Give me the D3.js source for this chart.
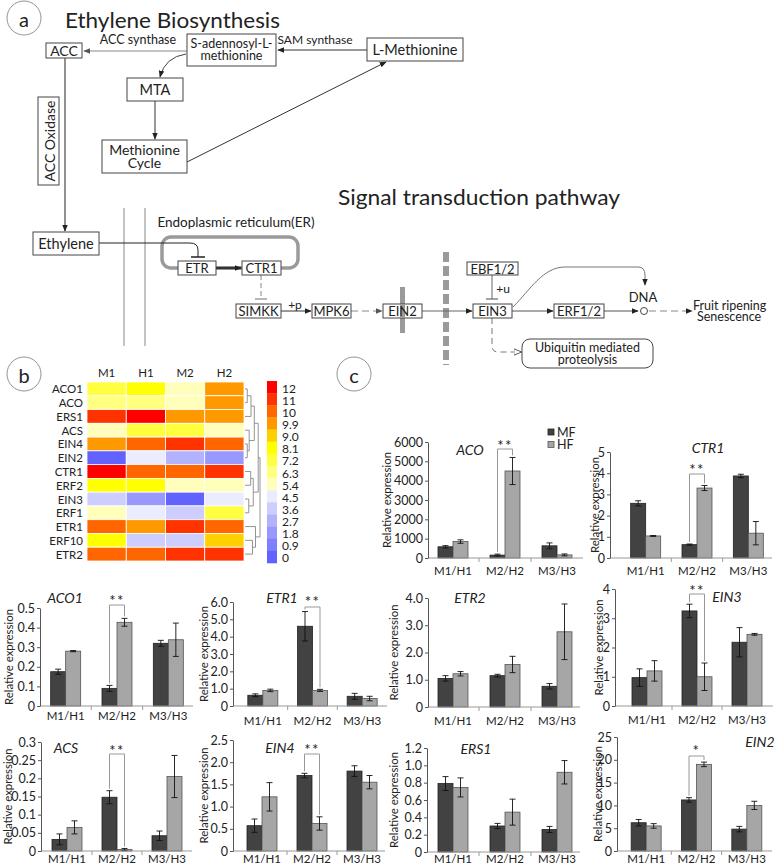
<!DOCTYPE html>
<html><head><meta charset="utf-8">
<script src="https://cdn.jsdelivr.net/npm/d3@7"></script>
<style>body{margin:0;background:#fff}svg{display:block}text{font-family:Lato,"Open Sans",sans-serif;fill:#222}</style>
</head><body><svg id="c" width="778" height="866"></svg>
<script>
// ================= DATA =================
const categories = ["M1/H1", "M2/H2", "M3/H3"];
const series = ["MF", "HF"];

const ACO_MF = [580, 150, 630], ACO_MF_SD = [60, 50, 150];
const ACO_HF = [850, 4500, 160], ACO_HF_SD = [90, 700, 50];
const ACO_TICKS = [0, 1000, 2000, 3000, 4000, 5000, 6000];
const ACO_LABELS = ["0", "1000", "2000", "3000", "4000", "5000", "6000"];

const CTR1_MF = [2.58, 0.63, 3.87], CTR1_MF_SD = [0.12, 0.03, 0.08];
const CTR1_HF = [1.04, 3.3, 1.17], CTR1_HF_SD = [0.02, 0.12, 0.55];
const CTR1_TICKS = [0, 1, 2, 3, 4, 5];
const CTR1_LABELS = ["0", "1", "2", "3", "4", "5"];

const ACO1_MF = [0.175, 0.09, 0.32], ACO1_MF_SD = [0.013, 0.015, 0.015];
const ACO1_HF = [0.28, 0.427, 0.338], ACO1_HF_SD = [0.003, 0.02, 0.085];
const ACO1_TICKS = [0, 0.1, 0.2, 0.3, 0.4, 0.5];
const ACO1_LABELS = ["0", "0.1", "0.2", "0.3", "0.4", "0.5"];

const ETR1_MF = [0.62, 4.6, 0.56], ETR1_MF_SD = [0.08, 0.85, 0.17];
const ETR1_HF = [0.9, 0.9, 0.43], ETR1_HF_SD = [0.07, 0.06, 0.13];
const ETR1_TICKS = [0, 1, 2, 3, 4, 5, 6];
const ETR1_LABELS = ["0", "1.0", "2.0", "3.0", "4.0", "5.0", "6.0"];

const ETR2_MF = [1.05, 1.15, 0.76], ETR2_MF_SD = [0.1, 0.05, 0.1];
const ETR2_HF = [1.22, 1.56, 2.76], ETR2_HF_SD = [0.08, 0.3, 1.02];
const ETR2_TICKS = [0, 1, 2, 3, 4];
const ETR2_LABELS = ["0", "1.0", "2.0", "3.0", "4.0"];

const EIN3_MF = [0.97, 3.25, 2.18], EIN3_MF_SD = [0.3, 0.23, 0.5];
const EIN3_HF = [1.2, 1.0, 2.45], EIN3_HF_SD = [0.35, 0.47, 0.03];
const EIN3_TICKS = [0, 1, 2, 3, 4];
const EIN3_LABELS = ["0", "1", "2", "3", "4"];

const ACS_MF = [0.032, 0.148, 0.042], ACS_MF_SD = [0.015, 0.018, 0.013];
const ACS_HF = [0.065, 0.004, 0.205], ACS_HF_SD = [0.018, 0.003, 0.058];
const ACS_TICKS = [0, 0.05, 0.1, 0.15, 0.2, 0.25, 0.3];
const ACS_LABELS = ["0", "0.05", "0.1", "0.15", "0.2", "0.25", "0.3"];

const EIN4_MF = [0.57, 1.7, 1.8], EIN4_MF_SD = [0.15, 0.05, 0.12];
const EIN4_HF = [1.22, 0.62, 1.55], EIN4_HF_SD = [0.32, 0.15, 0.15];
const EIN4_TICKS = [0, 0.5, 1, 1.5, 2, 2.5];
const EIN4_LABELS = ["0", "0.5", "1.0", "1.5", "2.0", "2.5"];

const ERS1_MF = [0.79, 0.3, 0.26], ERS1_MF_SD = [0.08, 0.03, 0.035];
const ERS1_HF = [0.745, 0.46, 0.92], ERS1_HF_SD = [0.11, 0.15, 0.135];
const ERS1_TICKS = [0, 0.2, 0.4, 0.6, 0.8, 1.0, 1.2];
const ERS1_LABELS = ["0", "0.2", "0.4", "0.6", "0.8", "1.0", "1.2"];

const EIN2_MF = [6.2, 11.2, 4.8], EIN2_MF_SD = [0.7, 0.5, 0.6];
const EIN2_HF = [5.5, 19.0, 10.0], EIN2_HF_SD = [0.5, 0.5, 0.9];
const EIN2_TICKS = [0, 5, 10, 15, 20, 25];
const EIN2_LABELS = ["0", "5", "10", "15", "20", "25"];

// heatmap
const heatGenes = ["ACO1", "ACO", "ERS1", "ACS", "EIN4", "EIN2", "CTR1", "ERF2", "EIN3", "ERF1", "ETR1", "ERF10", "ETR2"];
const heatSamples = ["M1", "H1", "M2", "H2"];
const heatM1 = [7.2, 6.3, 11, 5.4, 9.9, 0, 12, 8.1, 3.6, 5.4, 10, 8.1, 10];
const heatH1 = [8.1, 6.3, 12, 7.2, 10, 4.5, 10, 8.1, 1.8, 4.5, 9.9, 3.6, 10];
const heatM2 = [5.4, 5.4, 9.9, 7.2, 11, 2.7, 10, 5.4, 0, 3.6, 11, 3.6, 11];
const heatH2 = [9.9, 9.9, 9.9, 5.4, 10, 1.8, 11, 5.4, 4.5, 7.2, 10, 9.0, 11];
const legendValues = [12, 11, 10, 9.9, 9.0, 8.1, 7.2, 6.3, 5.4, 4.5, 3.6, 2.7, 1.8, 0.9, 0];
const legendLabels = ["12", "11", "10", "9.9", "9.0", "8.1", "7.2", "6.3", "5.4", "4.5", "3.6", "2.7", "1.8", "0.9", "0"];
const legendColors = ["#ff0000", "#ff3300", "#ff6600", "#ff9900", "#ffd000", "#ffff00", "#ffff40", "#ffff80", "#ffffbb", "#ececff", "#cdcdff", "#b2b2ff", "#9898ff", "#7e7eff", "#6262ff"];
// dendrogram merges: [id, childA, childB, height]
const dendroMerges = [
  ["n1", "ACO1", "ACO", 0.15], ["n2", "n1", "ERS1", 0.4], ["n3", "EIN4", "EIN2", 0.15],
  ["n4", "ACS", "n3", 0.28], ["n5", "n2", "n4", 0.62], ["n6", "CTR1", "ERF2", 0.38],
  ["n7", "EIN3", "ERF1", 0.25], ["n8", "n6", "n7", 0.55], ["n9", "n5", "n8", 0.88],
  ["n10", "ERF10", "ETR2", 0.5], ["n11", "ETR1", "n10", 0.7], ["n12", "n9", "n11", 1.0]
];

// ================= DRAW =================
const svg = d3.select("#c");
const defs = svg.append("defs");
function marker(id, color, hollow, size) {
  defs.append("marker").attr("id", id).attr("viewBox", "0 0 10 10").attr("refX", 9).attr("refY", 5)
    .attr("markerWidth", size || 7).attr("markerHeight", size || 7).attr("markerUnits", "userSpaceOnUse").attr("orient", "auto")
    .append("path").attr("d", "M0,1L10,5L0,9Z").attr("fill", hollow ? "#fff" : color)
    .attr("stroke", color).attr("stroke-width", hollow ? 1.2 : 0);
}
marker("ah", "#222"); marker("ahg", "#555"); marker("ahh", "#555", true, 8);

// ---- panel labels ----
function panelLabel(cx, cy, t) {
  svg.append("circle").attr("cx", cx).attr("cy", cy).attr("r", 17).attr("fill", "none").attr("stroke", "#777").attr("stroke-width", 0.8);
  svg.append("text").attr("x", cx).attr("y", cy + 1).attr("text-anchor", "middle").attr("dominant-baseline", "central").attr("font-size", 20).text(t);
}
panelLabel(24, 18, "a"); panelLabel(24, 374, "b"); panelLabel(354, 374, "c");

// ---- panel a: pathway ----
const A = svg.append("g");
function path(d, color, w, dash, mk) {
  const p = A.append("path").attr("d", d).attr("fill", "none").attr("stroke", color).attr("stroke-width", w);
  if (dash) p.attr("stroke-dasharray", dash);
  if (mk) p.attr("marker-end", `url(#${mk})`);
  return p;
}
function label(x, y, t, fs, anchor) {
  return A.append("text").attr("x", x).attr("y", y).attr("text-anchor", anchor || "middle").attr("dominant-baseline", "central").attr("font-size", fs).text(t);
}
// multi-line label as one text element with tspans
function mlabel(x, y, lines, fs, sp, anchor, dxs) {
  const t = A.append("text").attr("text-anchor", anchor || "middle").attr("font-size", fs);
  const n = lines.length;
  lines.forEach((s, i) => t.append("tspan").attr("x", x + ((dxs && dxs[i]) || 0)).attr("y", y + (i - (n - 1) / 2) * sp + fs * 0.35).text(s));
  return t;
}
function box(x, y, w, h, lines, fs, rx, gap, under) {
  A.append("rect").attr("x", x).attr("y", y).attr("width", w).attr("height", h).attr("rx", rx || 0)
    .attr("fill", "#fff").attr("stroke", "#444").attr("stroke-width", 1);
  if (under) under();
  if (lines.length === 1) label(x + w / 2, y + h / 2, lines[0], fs);
  else mlabel(x + w / 2, y + h / 2, lines, fs, gap || fs * 0.9);
}

A.append("text").attr("x", 65).attr("y", 28).attr("font-size", 21).attr("textLength", 215).attr("lengthAdjust", "spacingAndGlyphs").text("Ethylene Biosynthesis");
A.append("text").attr("x", 338).attr("y", 205).attr("font-size", 21).attr("textLength", 282).attr("lengthAdjust", "spacingAndGlyphs").text("Signal transduction pathway");

// membrane lines
path("M124,208V346", "#888", 1); path("M145,208V346", "#888", 1);
// ER compartment
A.append("rect").attr("x", 162).attr("y", 237).attr("width", 136).attr("height", 31).attr("rx", 9).attr("fill", "none").attr("stroke", "#9a9a9a").attr("stroke-width", 3.5);
label(236, 222, "Endoplasmic reticulum(ER)", 13.5);

// biosynthesis arrows
path("M367,50H278", "#333", 1, null, "ah");
path("M187,51H84", "#888", 1, null, "ahg");
path("M186,54Q165,57 160,77", "#444", 1, null, "ah");
path("M155,101V139", "#333", 1, null, "ah");
path("M187,162L386,62", "#333", 1, null, "ah");
path("M65,58V231", "#222", 1, null, "ah");
label(138, 39, "ACC synthase", 12.5);
label(315, 39, "SAM synthase", 12);

// signal arrows
path("M99,243H190Q198,243 198,250V257", "#222", 1);
path("M191,257H205", "#222", 1.5);
path("M216,268H241", "#333", 2.5, null, "ah");
path("M261,275V299", "#888", 1, "5,3");
path("M255,299H267", "#888", 1.2);
path("M281,311H311", "#333", 1, null, "ah");
label(295, 304, "+p", 12);
path("M351,311H382", "#888", 1.2, "7,4", "ahg");
A.append("rect").attr("x", 400).attr("y", 287).attr("width", 5).attr("height", 46).attr("fill", "#9a9a9a");
path("M446,252V365", "#9a9a9a", 6, "10,4");
path("M422,311H472", "#666", 1, null, "ah");
path("M492,275V299", "#666", 1);
path("M486,299H498", "#666", 1.2);
label(503, 288, "+u", 12);
path("M513,307C530,290 543,267 565,267H638Q645,267 645,275V285", "#666", 0.9, null, "ah");
path("M512,311H553", "#555", 1, null, "ah");
path("M604,311H638", "#555", 1, null, "ah");
A.append("circle").attr("cx", 644).attr("cy", 311).attr("r", 3.5).attr("fill", "#fff").attr("stroke", "#333").attr("stroke-width", 0.9);
label(643, 297, "DNA", 13);
path("M649,311H692", "#888", 1.2, "7,4", "ah");
mlabel(693, 311.5, ["Fruit  ripening", "Senescence"], 12.5, 11, "start", [0, 4]);
path("M492,318V346Q492,352 498,352H521", "#777", 1, "6,4", "ahh");

// boxes
box(46, 43, 36, 15, ["ACC"], 14);
box(187, 34, 89, 32, ["S-adennosyl-L-", "methionine"], 12.5, 0, 12);
box(367, 38, 96, 23, ["L-Methionine"], 14.5);
box(127, 78, 56, 23, ["MTA"], 14.5);
box(102, 140, 85, 33, ["Methionine", "Cycle"], 14, 0, 13);
A.append("rect").attr("x", 38).attr("y", 97).attr("width", 21).attr("height", 88).attr("fill", "#fff").attr("stroke", "#444");
A.append("text").attr("transform", "translate(49,141) rotate(-90)").attr("text-anchor", "middle").attr("dominant-baseline", "central").attr("font-size", 14).text("ACC Oxidase");
box(33, 232, 66, 23, ["Ethylene"], 14.5);
box(178, 261, 38, 14, ["ETR"], 13);
box(242, 261, 39, 14, ["CTR1"], 13);
box(236, 304, 45, 14, ["SIMKK"], 13);
box(312, 304, 39, 14, ["MPK6"], 13);
box(383, 304, 39, 14, ["EIN2"], 13, 0, 0, () => A.append("rect").attr("x", 400).attr("y", 304).attr("width", 5).attr("height", 14).attr("fill", "#9a9a9a"));
box(473, 304, 39, 14, ["EIN3"], 13);
box(467, 262, 51, 13, ["EBF1/2"], 13);
box(554, 304, 50, 14, ["ERF1/2"], 13);
box(522, 339, 131, 29, ["Ubiquitin mediated", "proteolysis"], 12.5, 8, 11.5);

// ---- panel b: heatmap ----
const H = svg.append("g");
const hx = d3.scaleBand().domain(heatSamples).range([87, 244]);
const hy = d3.scaleBand().domain(heatGenes).range([382, 561]);
const ascVals = legendValues.slice().reverse();
const color = d3.scaleThreshold().domain(d3.pairs(ascVals).map(([a, b]) => (a + b) / 2)).range(legendColors.slice().reverse());
const heatCols = [heatM1, heatH1, heatM2, heatH2];
heatSamples.forEach((s, j) => {
  heatGenes.forEach((g, i) => {
    H.append("rect").attr("x", hx(s)).attr("y", hy(g)).attr("width", hx.bandwidth()).attr("height", hy.bandwidth())
      .attr("fill", color(heatCols[j][i])).attr("stroke", "#fff").attr("stroke-width", 0.8);
  });
  H.append("text").attr("x", hx(s) + hx.bandwidth() / 2).attr("y", 372).attr("text-anchor", "middle").attr("dominant-baseline", "central").attr("font-size", 11.5).text(s);
});
heatGenes.forEach(g => H.append("text").attr("x", 83).attr("y", hy(g) + hy.bandwidth() / 2).attr("text-anchor", "end").attr("dominant-baseline", "central").attr("font-size", 11.5).text(g));
// legend
const ly = d3.scaleBand().domain(legendLabels).range([381, 563]);
legendLabels.forEach((l, i) => {
  H.append("rect").attr("x", 267).attr("y", ly(l)).attr("width", 10).attr("height", ly.bandwidth() + 0.3).attr("fill", legendColors[i]);
  H.append("text").attr("x", 282).attr("y", ly(l) + ly.bandwidth() / 2 + 1).attr("dominant-baseline", "central").attr("font-size", 12).text(l);
});
// dendrogram
const dx = d3.scaleLinear().domain([0, 1]).range([245, 260]);
const pos = {};
heatGenes.forEach(g => pos[g] = { y: hy(g) + hy.bandwidth() / 2, h: 0 });
dendroMerges.forEach(([id, a, b, h]) => {
  const A1 = pos[a], B1 = pos[b];
  H.append("path").attr("d", `M${dx(A1.h)},${A1.y}H${dx(h)}V${B1.y}H${dx(B1.h)}`).attr("fill", "none").attr("stroke", "#888").attr("stroke-width", 0.9);
  pos[id] = { y: (A1.y + B1.y) / 2, h };
});

// ---- panel c: bar charts ----
const charts = [
  { gene: "ACO", mf: ACO_MF, mfsd: ACO_MF_SD, hf: ACO_HF, hfsd: ACO_HF_SD, ticks: ACO_TICKS, labels: ACO_LABELS, sig: "**" },
  { gene: "CTR1", mf: CTR1_MF, mfsd: CTR1_MF_SD, hf: CTR1_HF, hfsd: CTR1_HF_SD, ticks: CTR1_TICKS, labels: CTR1_LABELS, sig: "**" },
  { gene: "ACO1", mf: ACO1_MF, mfsd: ACO1_MF_SD, hf: ACO1_HF, hfsd: ACO1_HF_SD, ticks: ACO1_TICKS, labels: ACO1_LABELS, sig: "**" },
  { gene: "ETR1", mf: ETR1_MF, mfsd: ETR1_MF_SD, hf: ETR1_HF, hfsd: ETR1_HF_SD, ticks: ETR1_TICKS, labels: ETR1_LABELS, sig: "**" },
  { gene: "ETR2", mf: ETR2_MF, mfsd: ETR2_MF_SD, hf: ETR2_HF, hfsd: ETR2_HF_SD, ticks: ETR2_TICKS, labels: ETR2_LABELS, sig: null },
  { gene: "EIN3", mf: EIN3_MF, mfsd: EIN3_MF_SD, hf: EIN3_HF, hfsd: EIN3_HF_SD, ticks: EIN3_TICKS, labels: EIN3_LABELS, sig: "**" },
  { gene: "ACS", mf: ACS_MF, mfsd: ACS_MF_SD, hf: ACS_HF, hfsd: ACS_HF_SD, ticks: ACS_TICKS, labels: ACS_LABELS, sig: "**" },
  { gene: "EIN4", mf: EIN4_MF, mfsd: EIN4_MF_SD, hf: EIN4_HF, hfsd: EIN4_HF_SD, ticks: EIN4_TICKS, labels: EIN4_LABELS, sig: "**" },
  { gene: "ERS1", mf: ERS1_MF, mfsd: ERS1_MF_SD, hf: ERS1_HF, hfsd: ERS1_HF_SD, ticks: ERS1_TICKS, labels: ERS1_LABELS, sig: null },
  { gene: "EIN2", mf: EIN2_MF, mfsd: EIN2_MF_SD, hf: EIN2_HF, hfsd: EIN2_HF_SD, ticks: EIN2_TICKS, labels: EIN2_LABELS, sig: "*" }
];
const layouts = {
  ACO:  { ax: 428, axEnd: 583, y0: 558, yTop: 442, b0: 427, b1: 583, tx: 470, ty: 449, ylx: 386, catY: 570, sigY: 443, sigTop: 449 },
  CTR1: { ax: 610, axEnd: 772, y0: 558, yTop: 452, b0: 620, b1: 774, tx: 708, ty: 447, ylx: 594, catY: 570, sigY: 467, sigTop: 474 },
  ACO1: { ax: 40, axEnd: 193, y0: 706, yTop: 608, b0: 40, b1: 194, tx: 65, ty: 597, ylx: 8, catY: 715, sigY: 598, sigTop: 605 },
  ETR1: { ax: 233, axEnd: 387, y0: 706, yTop: 602, b0: 238, b1: 387, tx: 282, ty: 597, ylx: 203, catY: 720, sigY: 599, sigTop: 607 },
  ETR2: { ax: 428, axEnd: 580, y0: 707, yTop: 598, b0: 427, b1: 583, tx: 470, ty: 597, ylx: 393, catY: 720 },
  EIN3: { ax: 615, axEnd: 773, y0: 706, yTop: 589, b0: 622, b1: 772, tx: 727, ty: 596, ylx: 598, catY: 719, sigY: 588, sigTop: 594 },
  ACS:  { ax: 41, axEnd: 192, y0: 851, yTop: 742, b0: 42, b1: 192, tx: 66, ty: 747, ylx: 7, catY: 858, sigY: 748, sigTop: 754 },
  EIN4: { ax: 233, axEnd: 385, y0: 851, yTop: 740, b0: 237, b1: 387, tx: 280, ty: 747, ylx: 203, catY: 858, sigY: 747, sigTop: 754 },
  ERS1: { ax: 427, axEnd: 580, y0: 852, yTop: 748, b0: 427, b1: 583, tx: 476, ty: 748, ylx: 393, catY: 858 },
  EIN2: { ax: 617, axEnd: 772, y0: 851, yTop: 737, b0: 621, b1: 772, tx: 760, ty: 741, ylx: 597, catY: 858, sigY: 748, sigTop: 756 }
};
const fills = { MF: "#424242", HF: "#a6a6a6" }, strokes = { MF: "#222", HF: "#555" };

charts.forEach(c => {
  const L = layouts[c.gene];
  const g = svg.append("g");
  const y = d3.scaleLinear().domain([0, d3.max(c.ticks)]).range([L.y0, L.yTop]);
  const xc = d3.scalePoint().domain(categories).range([L.b0, L.b1]).padding(0.5);
  const xs = d3.scaleBand().domain(series).range([-15, 15]);
  const bw = xs.bandwidth();
  const vals = { MF: c.mf, HF: c.hf }, sds = { MF: c.mfsd, HF: c.hfsd };

  // bars
  categories.forEach((cat, i) => {
    series.forEach(s => {
      const v = vals[s][i], sd = sds[s][i];
      const x = xc(cat) + xs(s);
      g.append("rect").attr("x", x).attr("y", y(v)).attr("width", bw).attr("height", L.y0 - y(v))
        .attr("fill", fills[s]).attr("stroke", strokes[s]).attr("stroke-width", 0.8);
      const cx = x + bw / 2;
      g.append("path").attr("d", `M${cx},${y(Math.max(0, v - sd))}V${y(v + sd)}M${cx - 3},${y(v + sd)}H${cx + 3}M${cx - 3},${y(Math.max(0, v - sd))}H${cx + 3}`)
        .attr("stroke", "#111").attr("stroke-width", 0.9).attr("fill", "none");
    });
  });
  // x axis
  g.append("line").attr("x1", L.ax).attr("x2", L.axEnd).attr("y1", L.y0).attr("y2", L.y0).attr("stroke", "#9a9a9a").attr("stroke-width", 1.2);
  categories.slice(0, 2).forEach(cat => {
    const bx = xc(cat) + xc.step() / 2;
    g.append("line").attr("x1", bx).attr("x2", bx).attr("y1", L.y0).attr("y2", L.y0 + 4).attr("stroke", "#9a9a9a");
  });
  categories.forEach(cat => g.append("text").attr("x", xc(cat)).attr("y", L.catY).attr("text-anchor", "middle")
    .attr("dominant-baseline", "central").attr("font-size", 11.5).attr("fill", "#333").text(cat));
  // y axis
  g.append("g").attr("transform", `translate(${L.ax},0)`)
    .call(d3.axisLeft(y).tickValues(c.ticks).tickFormat((d, i) => c.labels[i]).tickSize(3).tickSizeOuter(0).tickPadding(2))
    .attr("font-family", "Lato, 'Open Sans', sans-serif").attr("font-size", 12.5)
    .call(a => { a.select(".domain").attr("stroke", "#555"); a.selectAll(".tick line").attr("stroke", "#555"); a.selectAll(".tick text").attr("fill", "#222"); });
  // y label
  g.append("text").attr("transform", `translate(${L.ylx},${(L.y0 + L.yTop) / 2}) rotate(-90)`).attr("text-anchor", "middle")
    .attr("dominant-baseline", "central").attr("font-size", 11.5).attr("textLength", 96).attr("lengthAdjust", "spacingAndGlyphs").attr("fill", "#333").text("Relative expression");
  // title
  g.append("text").attr("x", L.tx).attr("y", L.ty).attr("text-anchor", "middle").attr("dominant-baseline", "central")
    .attr("font-size", 14).attr("font-style", "italic").text(c.gene);
  // significance
  if (c.sig) {
    const cat = categories[1];
    const x1 = xc(cat) + xs("MF") + bw / 2, x2 = xc(cat) + xs("HF") + bw / 2;
    const e1 = y(c.mf[1] + c.mfsd[1]) - 2, e2 = y(c.hf[1] + c.hfsd[1]) - 2;
    g.append("path").attr("d", `M${x1},${e1}V${L.sigTop}H${x2}V${e2}`).attr("fill", "none").attr("stroke", "#999").attr("stroke-width", 1);
    g.append("text").attr("x", (x1 + x2) / 2).attr("y", L.sigY + 8).attr("text-anchor", "middle").attr("font-size", 15)
      .attr("letter-spacing", 1.5).text(c.sig);
  }
  if (c.gene === "ACO") {
    series.forEach((s, i) => {
      g.append("rect").attr("x", 548).attr("y", 429 + i * 12.5).attr("width", 6).attr("height", 6).attr("fill", fills[s]).attr("stroke", strokes[s]).attr("stroke-width", 0.8);
      g.append("text").attr("x", 557).attr("y", 432 + i * 12.5).attr("dominant-baseline", "central").attr("font-size", 12.5).attr("fill", "#333").text(s);
    });
  }
});
</script></body></html>
